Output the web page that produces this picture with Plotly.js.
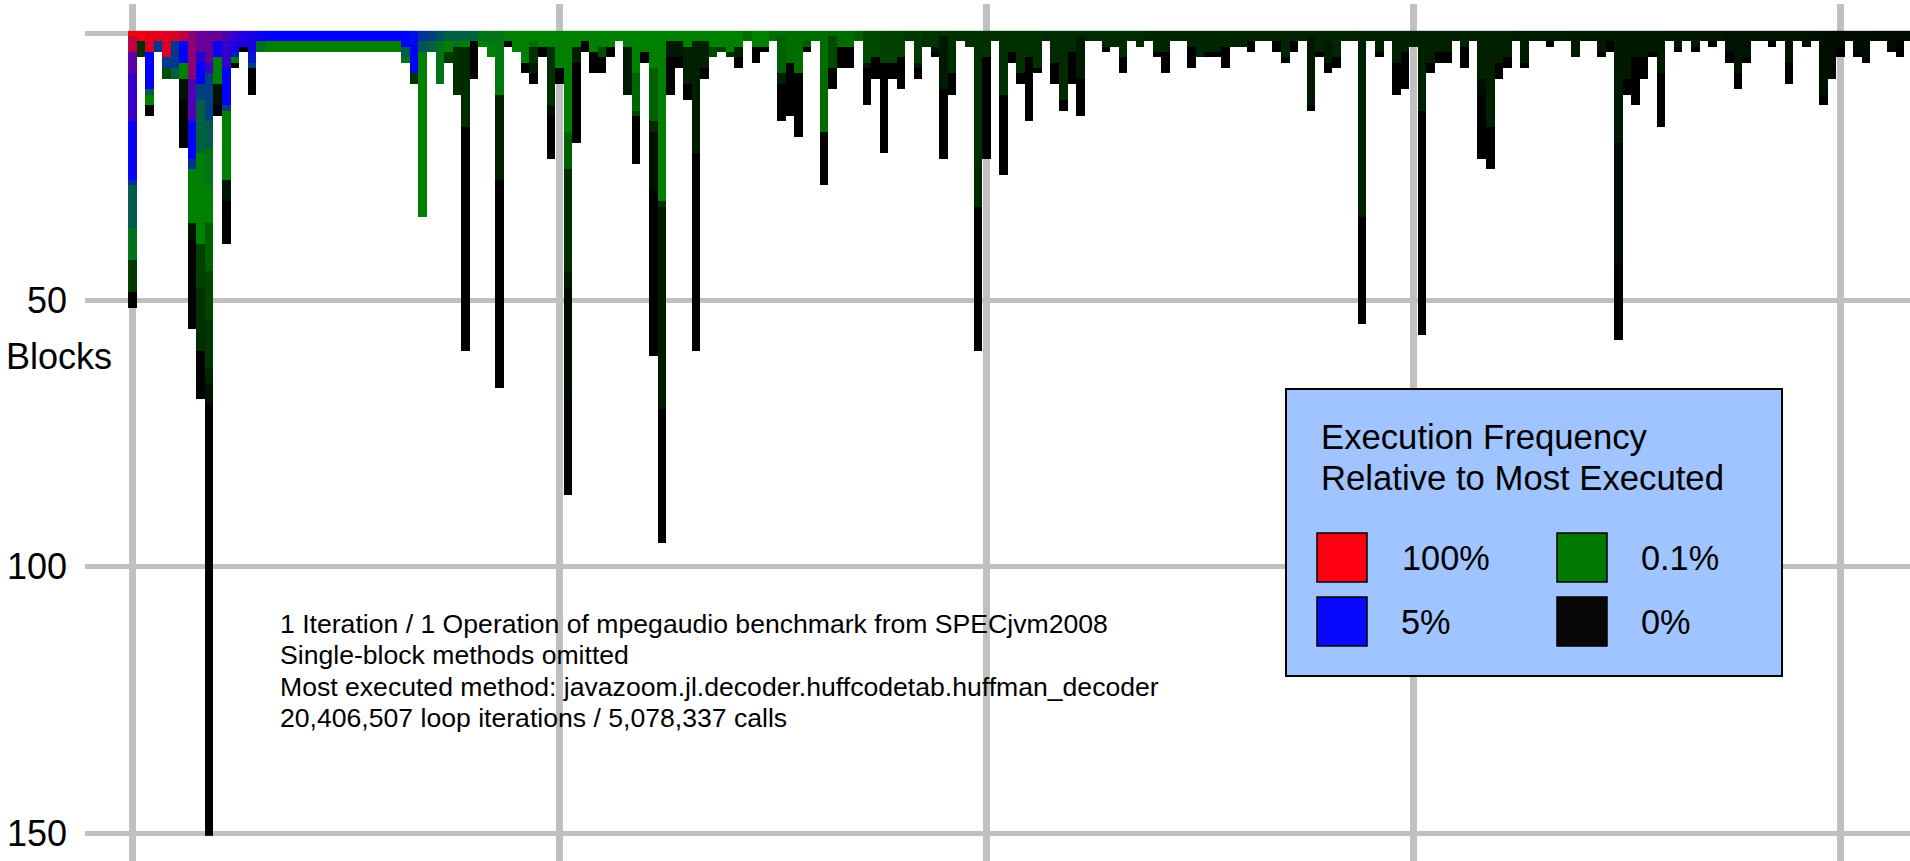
<!DOCTYPE html>
<html><head><meta charset="utf-8">
<script src="https://cdn.plot.ly/plotly-3.0.1.min.js"></script>
<style>html,body{margin:0;padding:0;background:#fff;}#chart{width:1910px;height:861px;}</style>
</head><body><div id="chart"></div>
<script>
// Each method (column) = list of [frequency level, block count] runs, top block first.
// Level scale: 0 = 0%, 1 = 0.1%, 2 = 5%, 3 = 100% of most executed.
const runs000 = [
[[2.97,1],[2.75,3],[2.35,4],[2.22,9],[2.04,11],[1.65,1],[1.3,8],[1.1,6],[0.45,6],[0,3]],
[[2.94,2],[0.37,3]],
[[2.9,2],[2.85,2],[2.0,7],[1.25,1],[1.0,2],[0,2]],
[[2.9,2],[1.56,2]],
[[2.88,2],[2.85,3],[1.56,2],[0.6,2]],
[[2.85,2],[1.56,5],[1.25,2]],
[[2.75,2],[2.0,4],[1.0,3],[0.15,4],[0,9]],
[[2.56,9],[2.31,8],[2.0,7],[1.6,2],[1.0,10],[0.15,3],[0,17]],
[[2.4,4],[2.15,2],[2.0,4],[1.5,3],[1.25,10],[1.0,17],[0.5,8],[0.37,12],[0,9]],
[[2.4,6],[2.25,2],[1.5,9],[1.3,5],[1.1,7],[1.0,7],[0.75,9],[0.55,9],[0.42,9],[0.3,3],[0.15,4],[0,81]],
[[2.4,2],[2.05,3],[1.0,5],[0.15,4],[0,2]],
[[2.3,2],[2.2,5],[2.0,7],[1.5,1],[1.0,13],[0.15,4],[0,8]],
[[2.18,2],[2.12,2],[1.8,1],[1.0,1],[0,1]],
[[2.12,3],[0,1]],
[[2.1,4],[1.8,2],[1.5,1],[0,5]],
[[2.05,2],[1.15,2]],
[[2,2],[1,2]],[[2,2],[1,2]],[[2,2],[1,2]],[[2,2],[1,2]],
[[2,2],[1,2]],[[2,2],[1,2]],[[2,2],[1,2]],[[2,2],[1,2]],
[[2,2],[1,2]],[[2,2],[1,2]],[[2,2],[1,2]],[[2,2],[1,2]],
[[2,2],[1,2]],[[2,2],[1,2]],[[2,2],[1,2]],[[2,2],[1,2]],
[[2,3],[1.3,2],[1.1,1]],
[[1.9,2],[2,6],[0.4,2]],
[[1.6,2],[1.35,2],[1,31]],
[[1.5,2],[1.25,2]],
[[1.4,2],[1.1,8]],
[[1.25,2],[1,2],[0.45,2]],
[[1.25,2],[1.1,1],[0.37,9]],
[[1.25,2],[1,1],[0.33,15],[0,42]],
[[1.2,2],[0,7]],
[[1.1,2],[1,1]],
[[1.1,2],[1.05,1],[1,2]],
[[1.1,2],[1.05,10],[0.25,16],[0,39]],
[[1,2],[0,1]],
[[1,4]],
[[1,6],[0,2]],
[[1,2],[0.85,1],[0.37,3],[0.2,2],[0,2]],
[[1,3],[0,2]],
[[1,3],[0.37,11],[0.12,2],[0,8]]
];
const runs050 = [
[[1,7],[0,3]],
[[1,19],[0.75,7],[0.35,19],[0.2,3],[0.08,21],[0,18]],
[[1,3],[0.25,3],[0,15]],
[[1,2],[0,2]],
[[1,4],[0,4]],
[[1,3],[0.6,2],[0,3]],
[[1,3],[0,2]],
[[1,2]],
[[1,3],[0.2,9]],
[[1,8],[0.8,7],[0.5,1],[0,9]],
[[1,4],[0,2]],
[[1,7],[0.75,10],[0.33,2],[0.12,11],[0,31]],
[[1,32],[0.37,1],[0.2,38],[0,25]],
[[1,2],[0.2,3],[0,7]],
[[1,2],[0.2,3],[0,2]],
[[1,3],[0.25,7],[0,3]],
[[1,2],[0.25,21],[0,37]],
[[1,2],[0.25,5],[0,2]],
[[1,3],[0.58,2]],
[[1,3],[0.5,1]],
[[1,4],[0.37,1]],
[[1,3],[0.25,2],[0,2]],
[[0.85,2]],
[[1,3],[0,3]],
[[1,3],[0,1]],
[[0.85,2]],
[[0.85,1],[0.75,7],[0.25,2],[0,7]],
[[0.85,6],[0,10]],
[[0.85,8],[0,12]],
[[0.85,2],[0.7,1],[0,1]],
[[0.85,2]],
[[0.85,19],[0.12,1],[0,9]],
[[0.85,1],[0.58,6],[0,4]],
[[0.85,3],[0,4]],
[[0.85,3],[0,4]],
[[0.75,2]],
[[0.58,6],[0.2,1],[0,7]],
[[0.58,5],[0,4]],
[[0.5,6],[0,17]],
[[0.5,6],[0,3]],
[[0.5,5],[0,6]],
[[0.45,2]],
[[0.45,6],[0.2,1],[0,2]],
[[0.4,3]],
[[0.4,3],[0.2,1],[0,1]],
[[0.4,1],[0.2,10],[0,13]],
[[0.37,8],[0,4]],
[[0.37,2]],
[[0.37,3]],
[[0.37,25],[0.33,8],[0,27]]
];
const runs100 = [
[[0.37,5],[0,19]],
[[0.37,2]],
[[0.37,12],[0,15]],
[[0.37,4],[0,2]],
[[0.37,8],[0,2]],
[[0.37,5],[0,12]],
[[0.37,7],[0,1]],
[[0.33,2]],
[[0.33,6],[0,4]],
[[0.33,13],[0,2]],
[[0.33,4],[0,6]],
[[0.33,1],[0.2,8],[0,7]],
[[0.33,2]],
[[0.33,2]],
[[0.33,3],[0,1]],
[[0.33,3]],
[[0.33,5],[0,3]],
[[0.33,2]],
[[0.33,3]],
[[0.3,2]],
[[0.3,4],[0,1]],
[[0.3,4],[0,4]],
[[0.3,2]],
[[0.3,2]],
[[0.3,3],[0,4]],
[[0.3,5]],
[[0.3,4],[0,1]],
[[0.3,4],[0,1]],
[[0.3,3],[0,4]],
[[0.28,3]],
[[0.28,3]],
[[0.28,2],[0,2]],
[[0.28,2]],
[[0.28,2]],
[[0.28,2],[0,2]],
[[0.28,5],[0,1]],
[[0.28,2],[0,2]],
[[0.28,2]],
[[0.28,1],[0.18,13],[0,1]],
[[0.28,4],[0,1]],
[[0.28,2],[0.2,4],[0,2]],
[[0.28,5],[0,2]],
[[0.28,2]],
[[0.28,2]],
[[0.25,35],[0,20]],
[[0.25,2]],
[[0.25,4],[0,1]],
[[0.25,2]],
[[0.25,6],[0,6]],
[[0.25,4],[0,7]]
];
const runs150 = [
[[0.25,3]],
[[0.25,15],[0,42]],
[[0.25,6],[0,2]],
[[0.25,4],[0,2]],
[[0.25,4],[0,2]],
[[0.25,2]],
[[0.25,3],[0,4]],
[[0.25,2]],
[[0.25,9],[0.1,3],[0,12]],
[[0.25,18],[0,8]],
[[0.25,6],[0,3]],
[[0.25,5],[0,2]],
[[0.22,2]],
[[0.22,6],[0,1]],
[[0.22,2]],
[[0.22,2]],
[[0.22,2],[0,1]],
[[0.22,2]],
[[0.22,2]],
[[0.2,5]],
[[0.2,2]],
[[0.2,2]],
[[0.2,4],[0,1]],
[[0.2,2],[0,2]],
[[0.2,21],[0.08,23],[0,14]],
[[0.2,9],[0,3]],
[[0.2,5],[0,9]],
[[0.2,5],[0,4]],
[[0.2,4],[0,1]],
[[0.2,8],[0,10]],
[[0.18,2]],
[[0.18,3],[0,1]],
[[0.18,2]],
[[0.18,3],[0,1]],
[[0.18,2]],
[[0.18,2],[0,1]],
[[0.18,2]],
[[0.15,4],[0,2]],
[[0.15,8],[0,3]],
[[0.15,5],[0,1]],
[[0.15,2]],
[[0.15,2]],
[[0.15,2],[0,1]],
[[0.15,2]],
[[0.15,6],[0,4]],
[[0.15,2]],
[[0.15,3]],
[[0.12,2]],
[[0.12,12],[0,2]],
[[0.1,9]],
[[0.1,3],[0,2]],
[[0.1,2]],
[[0.1,4],[0,1]],
[[0.1,5],[0,1]],
[[0.08,2]],
[[0.08,2]],
[[0.08,4]],
[[0.08,2],[0,3]],
[[0.08,2]]
];

const levelColors = ['rgb(0,0,0)','rgb(0,128,0)','rgb(0,0,255)','rgb(255,0,0)'];
const legendLabels = ['100%','5%','0.1%','0%'];
const legendColors = ['#ff0010','#0808ff','#007800','#080808'];
const legendTitle = ['Execution Frequency','Relative to Most Executed'];
const yTickVals = [0,50,100,150];
const yTickText = ['','50','100','150'];
const xGridVals = [0,50,100,150,200];
const noteLines = [
  '1 Iteration / 1 Operation of mpegaudio benchmark from SPECjvm2008',
  'Single-block methods omitted',
  'Most executed method: javazoom.jl.decoder.huffcodetab.huffman_decoder',
  '20,406,507 loop iterations / 5,078,337 calls'
];
const yAxisLabel = 'Blocks';

// ---- build grid from runs ----
const allRuns = runs000.concat(runs050, runs100, runs150);
const nCols = allRuns.length;
const lens = allRuns.map(r => r.reduce((s, p) => s + p[1], 0));
const nRows = Math.max.apply(null, lens);
const z = [];
for (let k = 0; k < nRows; k++) z.push(new Array(nCols).fill(null));
allRuns.forEach((runs, c) => {
  let k = 0;
  runs.forEach(([lvl, n]) => { for (let i = 0; i < n; i++) { z[k][c] = lvl; k++; } });
});
const xs = allRuns.map((_, i) => i);
const ys = z.map((_, i) => i);

const W = 1910, H = 861, ML = 85, MT = 4;
const PW = W - ML, PH = H - MT;
const px = v => (v - ML) / PW;
const py = v => 1 - (v - MT) / PH;
const FONT = 'Liberation Sans, Arial, Helvetica, sans-serif';

const shapes = [{
  type: 'rect', xref: 'paper', yref: 'paper', layer: 'above',
  x0: px(1286), x1: px(1782), y0: py(389), y1: py(676),
  fillcolor: '#a0c4ff', line: {color: '#000', width: 2}
}];
const swatchPos = [[1317, 533], [1317, 597], [1557, 533], [1557, 597]];
const labelPos = [[1401, 558], [1400, 622], [1640, 558], [1640, 622]];
legendColors.forEach((col, i) => {
  const [sx, sy] = swatchPos[i];
  shapes.push({type: 'rect', xref: 'paper', yref: 'paper', layer: 'above',
    x0: px(sx), x1: px(sx + 50), y0: py(sy), y1: py(sy + 49),
    fillcolor: col, line: {color: '#000', width: 1.5}});
});

const annotations = [];
function addText(text, x, y, size) {
  annotations.push({text: text, xref: 'paper', yref: 'paper', x: px(x), y: py(y),
    xanchor: 'left', yanchor: 'middle', showarrow: false,
    font: {family: FONT, size: size, color: '#000'}, borderpad: 0});
}
addText(yAxisLabel, 5, 356, 36);
const noteY = [624, 655, 687, 718];
noteLines.forEach((t, i) => addText(t, 279, noteY[i], 26.6));
addText(legendTitle[0], 1320, 437, 34.7);
addText(legendTitle[1], 1320, 478, 34.7);
legendLabels.forEach((t, i) => addText(t, labelPos[i][0], labelPos[i][1], 34.3));

const trace = {
  type: 'heatmap', x: xs, y: ys, z: z,
  zmin: 0, zmax: 3, zsmooth: false, showscale: false, hoverinfo: 'skip',
  colorscale: [[0, levelColors[0]], [1/3, levelColors[1]], [2/3, levelColors[2]], [1, levelColors[3]]]
};

const layout = {
  width: W, height: H,
  margin: {l: ML, r: 0, t: MT, b: 0, pad: 0},
  paper_bgcolor: '#fff', plot_bgcolor: '#fff',
  showlegend: false,
  xaxis: {range: [-5.54, 208.15], tickvals: xGridVals, showticklabels: false, ticks: '',
    showgrid: true, gridcolor: '#c0c0c0', gridwidth: 7.5, zeroline: false, showline: false, fixedrange: true},
  yaxis: {range: [155.2, -5.53], tickvals: yTickVals, ticktext: yTickText, ticks: '',
    showgrid: true, gridcolor: '#c0c0c0', gridwidth: 5, zeroline: false, showline: false,
    tickfont: {family: FONT, size: 36, color: '#000'}, ticklabelstandoff: 17, fixedrange: true},
  shapes: shapes,
  annotations: annotations,
  font: {family: FONT}
};

Plotly.newPlot('chart', [trace], layout, {displayModeBar: false, staticPlot: true});
</script>
</body></html>
